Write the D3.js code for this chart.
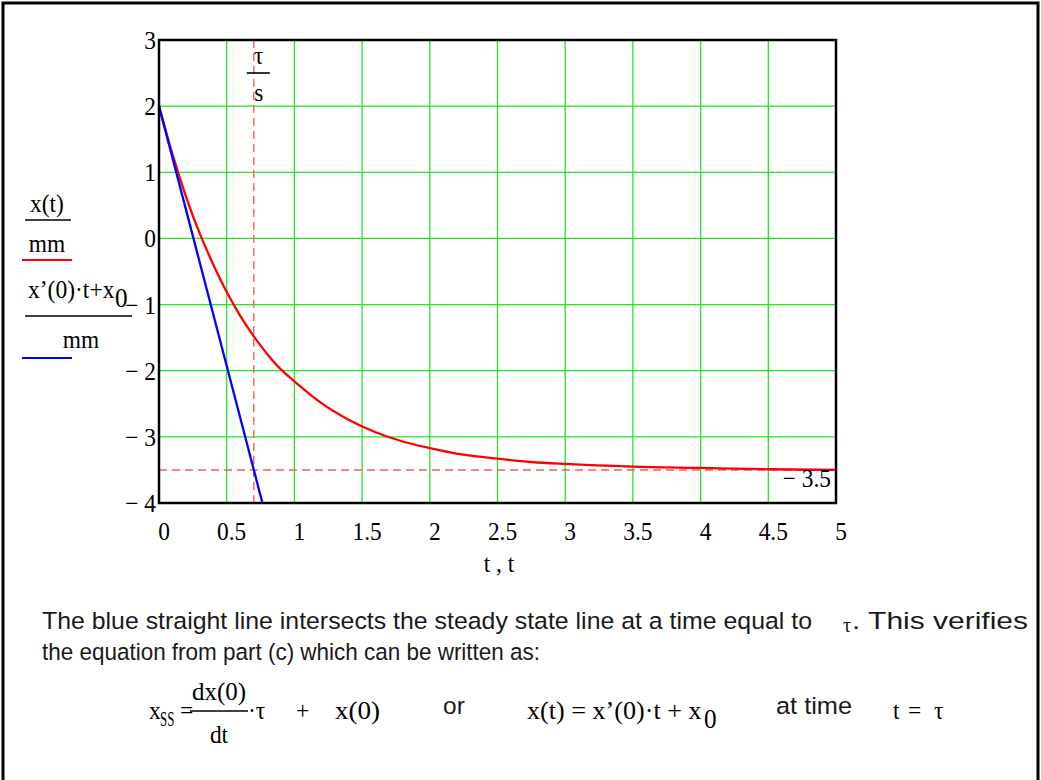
<!DOCTYPE html>
<html>
<head>
<meta charset="utf-8">
<script src="https://cdn.jsdelivr.net/npm/d3@7"></script>
<style>
  body { margin: 0; background: #fff; }
  svg { display: block; }
</style>
</head>
<body>
<div id="chart"></div>
<script>
// values
const xTicks = [0, 0.5, 1, 1.5, 2, 2.5, 3, 3.5, 4, 4.5, 5];
const xTickLabels = ["0", "0.5", "1", "1.5", "2", "2.5", "3", "3.5", "4", "4.5", "5"];
const yTicks = [3, 2, 1, 0, -1, -2, -3, -4];
const yTickLabels = ["3", "2", "1", "0", "\u2212 1", "\u2212 2", "\u2212 3", "\u2212 4"];

// red curve x(t)/mm
const curveT = [0, 0.1, 0.2, 0.3, 0.4, 0.5, 0.6, 0.7, 0.8, 0.9, 1.0, 1.2, 1.4, 1.6, 1.8, 2.0, 2.25, 2.5, 2.75, 3.0, 3.5, 4.0, 4.5, 5.0];
const curveX = [2.0, 1.27, 0.63, 0.08, -0.39, -0.81, -1.17, -1.48, -1.75, -1.98, -2.16, -2.49, -2.74, -2.93, -3.07, -3.17, -3.27, -3.33, -3.38, -3.41, -3.45, -3.47, -3.49, -3.5];

// blue tangent line x'(0)*t + x0
const tangentT = [0, 0.764];
const tangentX = [2, -4];

const tau = 0.7;
const steady = -3.5;

const W = 1041, H = 780;
const svg = d3.select("#chart").append("svg").attr("width", W).attr("height", H);

// outer frame
svg.append("rect")
    .attr("x", 3).attr("y", 3)
    .attr("width", 1035).attr("height", 790)
    .attr("fill", "none").attr("stroke", "#000").attr("stroke-width", 3);

const x = d3.scaleLinear().domain([0, 5]).range([159, 836]);
const y = d3.scaleLinear().domain([-4, 3]).range([503, 40]);

const serif = "'Liberation Serif', 'Times New Roman', serif";
const sans = "'Liberation Sans', Arial, sans-serif";
const fs = 26;
const sx = 0.9; // mathcad text looks a bit narrow

// serif text drawn slightly condensed
function mtext(g, px, py, str, anchor, size) {
    return g.append("text")
        .attr("transform", "translate(" + px + "," + py + ") scale(" + sx + ",1)")
        .attr("text-anchor", anchor || "start")
        .attr("font-family", serif)
        .attr("font-size", size || fs)
        .text(str);
}

svg.append("defs").append("clipPath").attr("id", "plotClip")
    .append("rect")
    .attr("x", x(0)).attr("y", y(3))
    .attr("width", x(5) - x(0)).attr("height", y(-4) - y(3));

// grid
const grid = svg.append("g");
grid.selectAll(".vg").data(xTicks.slice(1, -1)).enter().append("line")
    .attr("x1", d => x(d)).attr("x2", d => x(d))
    .attr("y1", y(3)).attr("y2", y(-4))
    .attr("stroke", "#22e622").attr("stroke-width", 1.3);
grid.selectAll(".hg").data(yTicks.slice(1, -1)).enter().append("line")
    .attr("x1", x(0)).attr("x2", x(5))
    .attr("y1", d => y(d)).attr("y2", d => y(d))
    .attr("stroke", "#22e622").attr("stroke-width", 1.3);

// dashed markers
svg.append("line")
    .attr("x1", x(tau)).attr("x2", x(tau))
    .attr("y1", y(3)).attr("y2", y(-4))
    .attr("stroke", "#ff5a5a").attr("stroke-width", 1.4)
    .attr("stroke-dasharray", "8,5");
svg.append("line")
    .attr("x1", x(0)).attr("x2", x(5))
    .attr("y1", y(steady)).attr("y2", y(steady))
    .attr("stroke", "#ff5a5a").attr("stroke-width", 1.4)
    .attr("stroke-dasharray", "8,5");

const plot = svg.append("g").attr("clip-path", "url(#plotClip)");

const line = d3.line()
    .x(d => x(d[0]))
    .y(d => y(d[1]));

plot.append("path")
    .datum(curveT.map((t, i) => [t, curveX[i]]))
    .attr("d", line.curve(d3.curveMonotoneX))
    .attr("fill", "none").attr("stroke", "#ff0000").attr("stroke-width", 2.3);

plot.append("path")
    .datum(tangentT.map((t, i) => [t, tangentX[i]]))
    .attr("d", d3.line().x(d => x(d[0])).y(d => y(d[1])))
    .attr("fill", "none").attr("stroke", "#0000ff").attr("stroke-width", 2.3);

// frame of plot
svg.append("rect")
    .attr("x", x(0)).attr("y", y(3))
    .attr("width", x(5) - x(0)).attr("height", y(-4) - y(3))
    .attr("fill", "none").attr("stroke", "#000").attr("stroke-width", 2.5);

// tick labels
yTicks.forEach((d, i) => mtext(svg, x(0) - 3, y(d) + 9, yTickLabels[i], "end"));
xTicks.forEach((d, i) => mtext(svg, x(d) + 5, y(-4) + 37, xTickLabels[i], "middle"));

// x axis name
mtext(svg, 499, 572, "t , t", "middle");

// -3.5 marker label
mtext(svg, x(5) - 5, y(steady) + 17, "\u2212 3.5", "end");

// tau / s marker label
mtext(svg, x(tau) + 5, 64, "\u03c4", "middle");
svg.append("line").attr("x1", x(tau) - 7).attr("x2", x(tau) + 16).attr("y1", 73).attr("y2", 73)
    .attr("stroke", "#000").attr("stroke-width", 1.6);
mtext(svg, x(tau) + 5, 101, "s", "middle");

// legend / y axis labels
const lg = svg.append("g");
mtext(lg, 47, 212, "x(t)", "middle");
lg.append("line").attr("x1", 25).attr("x2", 71).attr("y1", 220).attr("y2", 220)
    .attr("stroke", "#000").attr("stroke-width", 1.6);
mtext(lg, 47, 252, "mm", "middle");
lg.append("line").attr("x1", 22).attr("x2", 72).attr("y1", 260).attr("y2", 260)
    .attr("stroke", "#ff0000").attr("stroke-width", 2);

mtext(lg, 28, 298, "x\u2019(0)\u00b7t+x")
    .attr("textLength", 96).attr("lengthAdjust", "spacingAndGlyphs");
mtext(lg, 115, 307, "0", "start", 28);
lg.append("line").attr("x1", 25).attr("x2", 132).attr("y1", 316).attr("y2", 316)
    .attr("stroke", "#000").attr("stroke-width", 1.6);
mtext(lg, 81, 348, "mm", "middle");
lg.append("line").attr("x1", 22).attr("x2", 72).attr("y1", 358).attr("y2", 358)
    .attr("stroke", "#0000ff").attr("stroke-width", 2);

// text below the chart
const body = svg.append("g").attr("font-family", sans).attr("font-size", 24.5).attr("fill", "#1a1a1a");
body.append("text").attr("x", 42).attr("y", 629)
    .attr("textLength", 770).attr("lengthAdjust", "spacingAndGlyphs")
    .text("The blue straight line intersects the steady state line at a time equal to");
body.append("text").attr("x", 843).attr("y", 632).attr("font-family", serif).attr("font-size", 20).text("\u03c4");
body.append("text").attr("x", 852).attr("y", 629)
    .attr("textLength", 176).attr("lengthAdjust", "spacingAndGlyphs")
    .text(". This verifies");
body.append("text").attr("x", 42).attr("y", 660)
    .attr("textLength", 498).attr("lengthAdjust", "spacingAndGlyphs")
    .text("the equation from part (c) which can be written as:");

// equations
const eq = svg.append("g");
mtext(eq, 149, 719, "x");
mtext(eq, 160, 726, "SS", "start", 20).attr("textLength", 16).attr("lengthAdjust", "spacingAndGlyphs");
mtext(eq, 180, 719, "=");
mtext(eq, 219, 700, "dx(0)", "middle").attr("textLength", 60).attr("lengthAdjust", "spacingAndGlyphs");
eq.append("line").attr("x1", 190).attr("x2", 248).attr("y1", 711).attr("y2", 711)
    .attr("stroke", "#000").attr("stroke-width", 1.6);
mtext(eq, 219, 743, "dt", "middle");
mtext(eq, 248, 719, "\u00b7\u03c4");
mtext(eq, 296, 719, "+");
mtext(eq, 335, 719, "x(0)").attr("textLength", 50).attr("lengthAdjust", "spacingAndGlyphs");
body.append("text").attr("x", 443).attr("y", 714).text("or");
mtext(eq, 527, 719, "x(t) = x\u2019(0)\u00b7t + x")
    .attr("textLength", 194).attr("lengthAdjust", "spacingAndGlyphs");
mtext(eq, 704, 728, "0", "start", 28);
body.append("text").attr("x", 776).attr("y", 714)
    .attr("textLength", 76).attr("lengthAdjust", "spacingAndGlyphs").text("at time");
mtext(eq, 893, 719, "t");
mtext(eq, 908, 719, "=");
mtext(eq, 934, 719, "\u03c4");
</script>
</body>
</html>
